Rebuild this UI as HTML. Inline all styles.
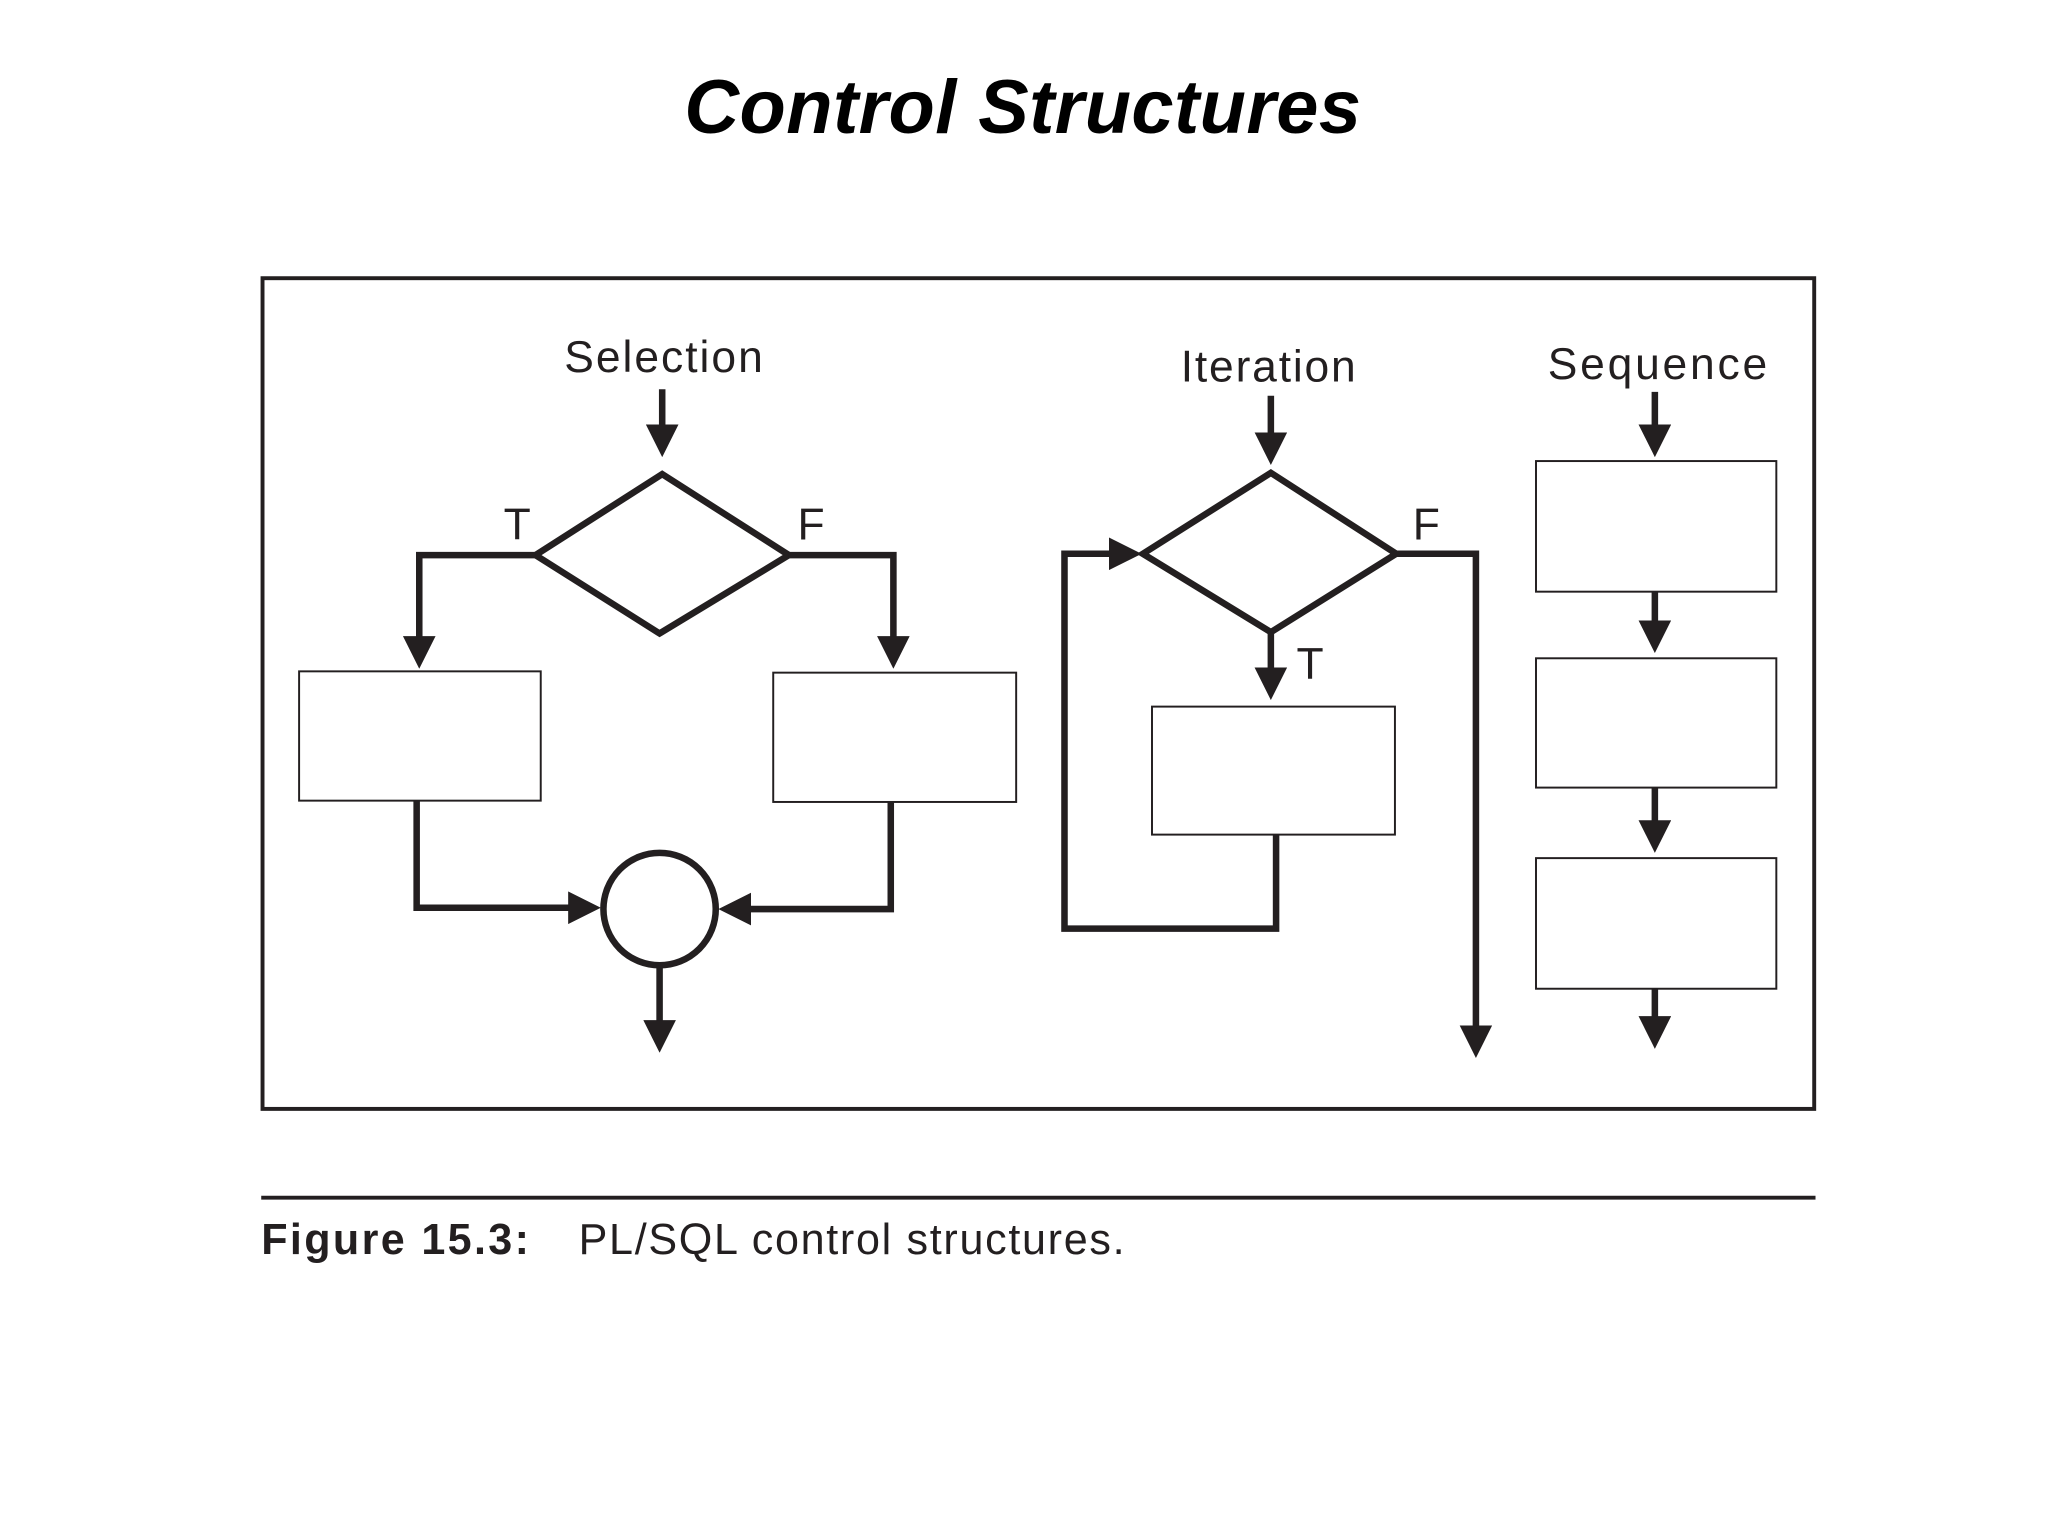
<!DOCTYPE html>
<html><head><meta charset="utf-8"><style>html,body{margin:0;padding:0;background:#fff}svg{display:block}</style></head>
<body>
<svg width="2048" height="1536" viewBox="0 0 1568 1176" xmlns="http://www.w3.org/2000/svg">
<defs>
<marker id="a" viewBox="0 0 10 10" refX="4" refY="5" markerWidth="5" markerHeight="5" markerUnits="strokeWidth" orient="auto"><path d="M0,0L10,5L0,10z" fill="#231f20"/></marker>
</defs>
<text x="783" y="102" text-anchor="middle" font-family="Liberation Sans, sans-serif" font-weight="bold" font-style="italic" font-size="58" textLength="518" fill="#000">Control Structures</text>
<rect x="201" y="213" width="1188" height="636" fill="none" stroke="#231f20" stroke-width="3"/>
<g font-family="Liberation Sans, sans-serif" font-size="34" fill="#231f20" text-anchor="middle">
<text x="508" y="285" textLength="152">Selection</text>
<text x="971" y="292" textLength="134">Iteration</text>
<text x="1269" y="290" textLength="168">Sequence</text>
<text x="396" y="413">T</text>
<text x="621" y="413">F</text>
<text x="1092" y="413">F</text>
<text x="1003" y="520">T</text>
</g>
<g fill="none" stroke="#231f20" stroke-width="5">
<line x1="507" y1="298" x2="507" y2="335" marker-end="url(#a)"/>
<polygon points="507,363 604,425 505,485 410,425"/>
<polyline points="410,425 321,425 321,497" marker-end="url(#a)"/>
<polyline points="604,425 684,425 684,497" marker-end="url(#a)"/>
<polyline points="319,613 319,695 445,695" marker-end="url(#a)"/>
<polyline points="682,614 682,696 565,696" marker-end="url(#a)"/>
<circle cx="505" cy="696" r="43"/>
<line x1="505" y1="739" x2="505" y2="791" marker-end="url(#a)"/>
<line x1="973" y1="303" x2="973" y2="341" marker-end="url(#a)"/>
<polygon points="973,362 1069,424 973,484 875,424"/>
<line x1="973" y1="484" x2="973" y2="521" marker-end="url(#a)"/>
<polyline points="977,639 977,711 815,711 815,424 859,424" marker-end="url(#a)"/>
<polyline points="1069,424 1130,424 1130,795" marker-end="url(#a)"/>
<line x1="1267" y1="300" x2="1267" y2="335" marker-end="url(#a)"/>
<line x1="1267" y1="453" x2="1267" y2="485" marker-end="url(#a)"/>
<line x1="1267" y1="603" x2="1267" y2="638" marker-end="url(#a)"/>
<line x1="1267" y1="757" x2="1267" y2="788" marker-end="url(#a)"/>
</g>
<g fill="#fff" stroke="#231f20" stroke-width="1.5">
<rect x="229" y="514" width="185" height="99"/>
<rect x="592" y="515" width="186" height="99"/>
<rect x="882" y="541" width="186" height="98"/>
<rect x="1176" y="353" width="184" height="100"/>
<rect x="1176" y="504" width="184" height="99"/>
<rect x="1176" y="657" width="184" height="100"/>
</g>
<line x1="200" y1="917" x2="1390" y2="917" stroke="#231f20" stroke-width="3"/>
<text x="200" y="960" font-family="Liberation Sans, sans-serif" font-weight="bold" font-size="33" textLength="205" fill="#231f20">Figure 15.3:</text>
<text x="443" y="960" font-family="Liberation Sans, sans-serif" font-size="33" textLength="418" fill="#231f20">PL/SQL control structures.</text>
</svg>
</body></html>
